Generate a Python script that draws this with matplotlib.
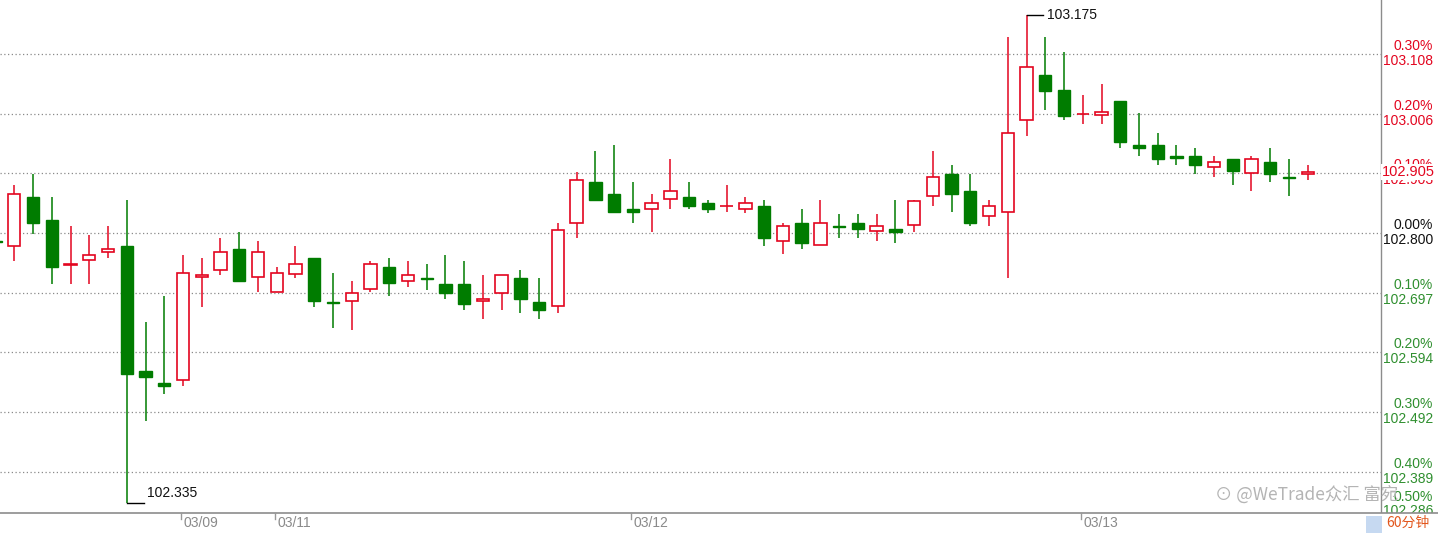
import matplotlib
matplotlib.use("Agg")
import matplotlib.pyplot as plt
from matplotlib.patches import Rectangle
import matplotlib.transforms as mtransforms

# ---------------- data (60-minute candles) ----------------
bar_index = list(range(-1, 70))
opens = [102.786, 102.778, 102.862, 102.822, 102.745, 102.753, 102.768, 102.778, 102.562, 102.541, 102.547,
         102.724, 102.737, 102.772, 102.724, 102.698, 102.729, 102.757, 102.681, 102.682, 102.703,
         102.741, 102.718, 102.722, 102.712, 102.712, 102.682, 102.697, 102.722, 102.681, 102.674,
         102.818, 102.888, 102.867, 102.841, 102.842, 102.858, 102.862, 102.852, 102.846, 102.842,
         102.847, 102.787, 102.817, 102.779, 102.812, 102.817, 102.803, 102.807, 102.813, 102.863,
         102.902, 102.872, 102.829, 102.837, 102.994, 103.072, 103.047, 103.005, 103.003, 103.028,
         102.952, 102.952, 102.933, 102.933, 102.913, 102.928, 102.903, 102.922, 102.896, 102.901]
highs = [102.786, 102.883, 102.902, 102.862, 102.812, 102.797, 102.812, 102.857, 102.646, 102.691, 102.762,
         102.757, 102.791, 102.802, 102.786, 102.741, 102.778, 102.757, 102.731, 102.717, 102.752,
         102.757, 102.752, 102.747, 102.762, 102.752, 102.728, 102.728, 102.736, 102.723, 102.817,
         102.906, 102.942, 102.952, 102.888, 102.867, 102.928, 102.888, 102.857, 102.883, 102.862,
         102.857, 102.817, 102.841, 102.857, 102.833, 102.833, 102.833, 102.857, 102.857, 102.941,
         102.918, 102.902, 102.857, 103.138, 103.175, 103.138, 103.112, 103.038, 103.057, 103.028,
         103.007, 102.972, 102.952, 102.947, 102.933, 102.928, 102.933, 102.947, 102.928, 102.918]
lows = [102.783, 102.752, 102.798, 102.712, 102.712, 102.712, 102.757, 102.335, 102.476, 102.522, 102.537,
        102.673, 102.728, 102.718, 102.698, 102.698, 102.723, 102.673, 102.637, 102.632, 102.698,
        102.692, 102.707, 102.702, 102.687, 102.667, 102.652, 102.667, 102.662, 102.652, 102.662,
        102.792, 102.857, 102.834, 102.818, 102.802, 102.842, 102.842, 102.834, 102.837, 102.834,
        102.778, 102.763, 102.773, 102.779, 102.792, 102.792, 102.787, 102.783, 102.802, 102.847,
        102.837, 102.812, 102.812, 102.723, 102.968, 103.012, 102.994, 102.988, 102.988, 102.947,
        102.933, 102.917, 102.918, 102.902, 102.897, 102.883, 102.873, 102.888, 102.863, 102.892]
closes = [102.784, 102.867, 102.818, 102.742, 102.747, 102.762, 102.772, 102.557, 102.552, 102.537, 102.731,
          102.728, 102.767, 102.718, 102.767, 102.731, 102.746, 102.682, 102.679, 102.696, 102.746,
          102.713, 102.728, 102.721, 102.697, 102.678, 102.686, 102.728, 102.687, 102.668, 102.806,
          102.891, 102.857, 102.837, 102.837, 102.852, 102.872, 102.847, 102.842, 102.847, 102.852,
          102.792, 102.812, 102.783, 102.817, 102.811, 102.807, 102.812, 102.802, 102.856, 102.896,
          102.868, 102.818, 102.846, 102.972, 103.087, 103.044, 103.002, 103.006, 103.008, 102.957,
          102.947, 102.928, 102.929, 102.918, 102.922, 102.907, 102.927, 102.902, 102.895, 102.905]

date_tick_index = [9, 14, 33, 57]
date_tick_labels = ["03/09", "03/11", "03/12", "03/13"]

ref_price = 102.800
pct_steps = [-5, -4, -3, -2, -1, 0, 1, 2, 3]
last_price_label = "102.905"
high_label = "103.175"
low_label = "102.335"
period_label = "60分钟"

# ---------------- style ----------------
UP = "#e3051f"
DOWN = "#007c00"
LBL_GREEN = "#2f8f2f"
GRID = "#8a8a8a"
AXIS = "#8c8c8c"

W, H = 1438, 533
fig = plt.figure(figsize=(W / 100, H / 100), dpi=100)
fig.patch.set_facecolor("white")

AX_RIGHT = 1381
AX_BOTTOM = 513
ax = fig.add_axes([0, (H - AX_BOTTOM) / H, AX_RIGHT / W, AX_BOTTOM / H])
ax.set_facecolor("white")

px_per_bar = 18.745
x0_px = 14.3
ax.set_xlim(-x0_px / px_per_bar, (AX_RIGHT - x0_px) / px_per_bar)
per_px = 0.001724
ax.set_ylim(ref_price - (AX_BOTTOM - 233) * per_px, ref_price + 233 * per_px)

for s in ax.spines.values():
    s.set_visible(False)
ax.set_xticks([])
ax.set_yticks([])

# gridlines
for k in pct_steps:
    lvl = ref_price * (1 + k / 1000.0)
    ax.axhline(lvl, color=GRID, lw=0.9, ls=(0, (1, 2)), zorder=1)

# candles
body_w = 0.66
for i, o, h, l, c in zip(bar_index, opens, highs, lows, closes):
    up = c >= o
    col = UP if up else DOWN
    ax.plot([i, i], [l, h], color=col, lw=1.1, zorder=2, solid_capstyle="butt")
    bottom = min(o, c)
    height = abs(c - o)
    if up:
        rect = Rectangle((i - body_w / 2, bottom), body_w, height, facecolor="white",
                         edgecolor=col, lw=1.2, zorder=3)
    else:
        rect = Rectangle((i - body_w / 2, bottom), body_w, height, facecolor=col,
                         edgecolor=col, lw=1.0, zorder=3)
    ax.add_patch(rect)

# high / low markers
hi_i = bar_index[highs.index(max(highs))]
lo_i = bar_index[lows.index(min(lows))]
ax.plot([hi_i, hi_i + 0.9], [max(highs)] * 2, color="black", lw=1.0, zorder=4)
ax.text(hi_i + 1.1, max(highs), high_label, color="#111111", fontsize=10,
        family="Liberation Sans", va="center", ha="left", zorder=4)
ax.plot([lo_i, lo_i + 0.9], [min(lows)] * 2, color="black", lw=1.0, zorder=4)
ax.text(lo_i + 1.1, min(lows) + 2.5 * per_px, low_label, color="#111111", fontsize=10,
        family="Liberation Sans", va="bottom", ha="left", zorder=4)

# right axis line
fig.add_artist(plt.Line2D([AX_RIGHT / W] * 2, [1, (H - AX_BOTTOM) / H], color=AXIS, lw=1.0,
                          transform=fig.transFigure, zorder=2))

# right-hand labels
blend = mtransforms.blended_transform_factory(fig.transFigure, ax.transData)
lbl_x = 1433 / W
for k in pct_steps:
    lvl = ref_price * (1 + k / 1000.0)
    col = UP if k > 0 else ("#111111" if k == 0 else LBL_GREEN)
    pct_txt = f"{abs(k) / 10:.2f}%"
    price_txt = f"{lvl:.3f}"
    if k == -5:
        fig.text(lbl_x, 1 - 497 / H, pct_txt, color=col, fontsize=10, family="Liberation Sans",
                 ha="right", va="center", zorder=3)
        fig.text(lbl_x, 1 - 511 / H, price_txt, color=col, fontsize=10, family="Liberation Sans",
                 ha="right", va="center", zorder=3)
        continue
    t1 = blend + mtransforms.ScaledTranslation(0, 8 / 100, fig.dpi_scale_trans)
    t2 = blend + mtransforms.ScaledTranslation(0, -7 / 100, fig.dpi_scale_trans)
    fig.text(lbl_x, lvl, pct_txt, color=col, fontsize=10, family="Liberation Sans",
             ha="right", va="center", transform=t1, zorder=3)
    fig.text(lbl_x, lvl, price_txt, color=col, fontsize=10, family="Liberation Sans",
             ha="right", va="center", transform=t2, zorder=3)

# current price label
fig.text(1435 / W, closes[-1], last_price_label, color=UP, fontsize=10.5, family="Liberation Sans",
         ha="right", va="center", transform=blend, zorder=4,
         bbox=dict(boxstyle="square,pad=0.05", facecolor="white", edgecolor="none"))

# watermark
fig.text(1215 / W, 1 - 495 / H, "⊙ @WeTrade众汇 富宛", color="#b4b4b4", fontsize=12.5,
         family=["Noto Sans CJK SC", "DejaVu Sans"], ha="left", va="center", zorder=4)

# bottom strip
fig.add_artist(Rectangle((0, 0), 1, (H - AX_BOTTOM) / H, transform=fig.transFigure,
                         facecolor="white", edgecolor="none", zorder=5))
fig.add_artist(plt.Line2D([0, 1], [(H - AX_BOTTOM) / H] * 2, color=AXIS, lw=1.2,
                          transform=fig.transFigure, zorder=6))
xblend = mtransforms.blended_transform_factory(ax.transData, fig.transFigure)
for ti, tl in zip(date_tick_index, date_tick_labels):
    fig.add_artist(plt.Line2D([ti - 0.1, ti - 0.1], [1 - 513 / H, 1 - 519 / H], color="#999999",
                              lw=1.0, transform=xblend, zorder=6))
    fig.text(ti + 0.03, 1 - 523 / H, tl, color="#8a8a8a", fontsize=10, family="Liberation Sans",
             ha="left", va="center", transform=xblend, zorder=7)

fig.add_artist(Rectangle((1366 / W, 0), 16 / W, 17 / H, transform=fig.transFigure,
                         facecolor="#c6d9f1", edgecolor="none", zorder=6))
fig.text(1386 / W, 1 - 523 / H, period_label, color="#e2561c", fontsize=10,
         family=["Noto Sans CJK SC", "DejaVu Sans"], ha="left", va="center", zorder=7)

fig.savefig("out.png", dpi=100, facecolor="white")
